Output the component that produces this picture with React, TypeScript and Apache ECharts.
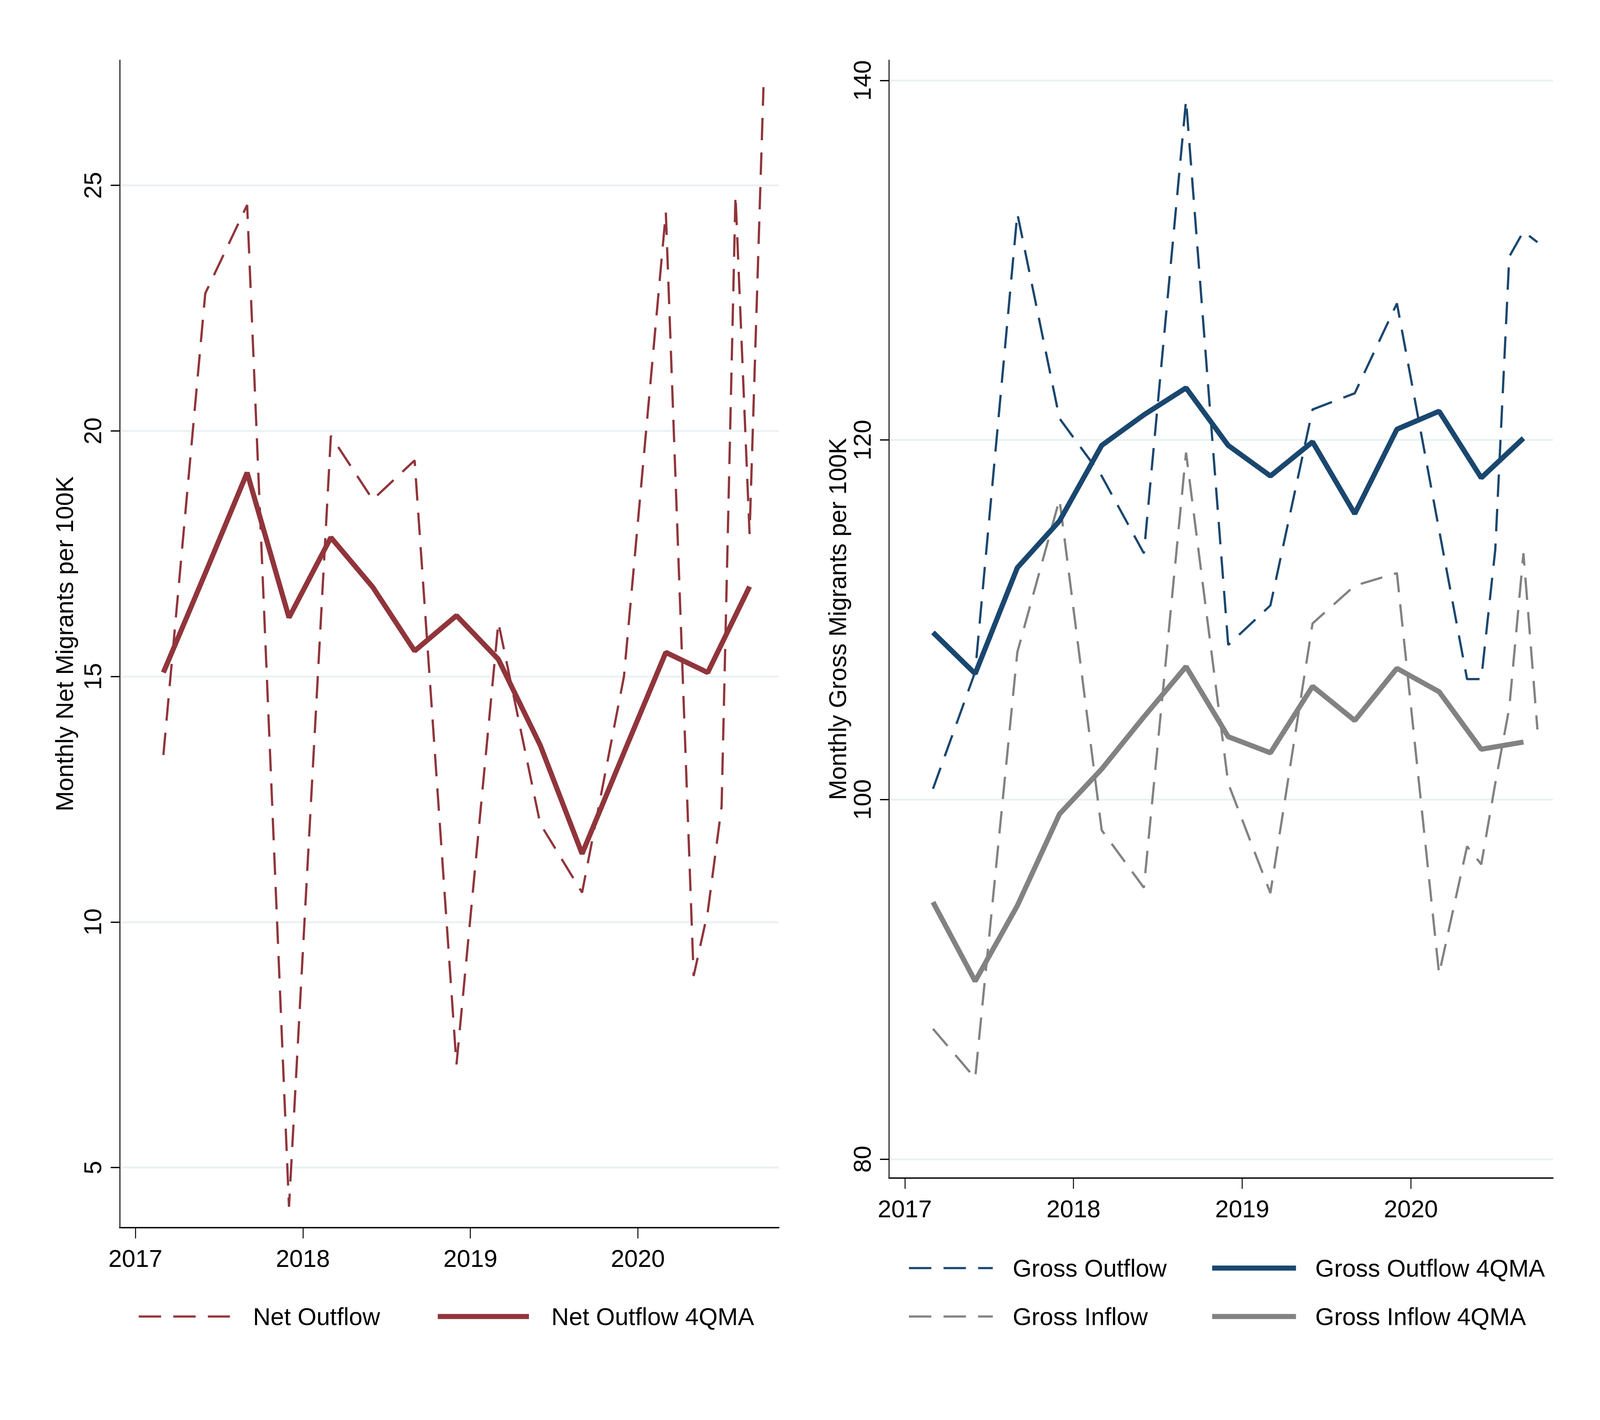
import React, { useEffect, useRef } from 'react';
import * as echarts from 'echarts';

// quarterly points through 2020q1, then monthly points for 2020
const flowDates = [
  2017.167, 2017.417, 2017.667, 2017.917, 2018.167, 2018.417, 2018.667, 2018.917,
  2019.167, 2019.417, 2019.667, 2019.917, 2020.167, 2020.333, 2020.417, 2020.5,
  2020.583, 2020.667, 2020.75,
];
// 4-quarter moving averages, quarterly
const maDates = [
  2017.167, 2017.417, 2017.667, 2017.917, 2018.167, 2018.417, 2018.667, 2018.917,
  2019.167, 2019.417, 2019.667, 2019.917, 2020.167, 2020.417, 2020.667,
];

const netOutflow = [
  13.4, 22.8, 24.6, 4.2, 19.9, 18.6, 19.4, 7.1, 16.1, 12.0, 10.6, 15.0, 24.45,
  8.9, 10.2, 12.35, 24.8, 17.9, 27.0,
];
const netOutflowMA = [
  15.08, 17.1, 19.15, 16.2, 17.83, 16.82, 15.52, 16.24, 15.35, 13.6, 11.39, 13.45,
  15.49, 15.08, 16.83,
];

const grossOutflow = [
  100.6, 107.1, 132.6, 121.2, 118.0, 113.7, 138.9, 108.6, 110.8, 121.7, 122.6, 127.6,
  115.0, 106.7, 106.7, 113.9, 130.2, 131.6, 131.0,
];
const grossInflow = [
  87.25, 84.5, 108.2, 116.7, 98.3, 95.1, 119.3, 100.9, 94.8, 109.8, 111.9, 112.6,
  90.3, 97.4, 96.4, 100.9, 105.1, 113.7, 103.9,
];
const grossOutflowMA = [
  109.3, 107.0, 112.9, 115.5, 119.7, 121.4, 122.9, 119.7, 118.0, 119.9, 115.9, 120.6,
  121.6, 117.9, 120.1,
];
const grossInflowMA = [
  94.3, 89.9, 94.1, 99.2, 101.7, 104.6, 107.4, 103.5, 102.6, 106.3, 104.4, 107.3,
  106.0, 102.8, 103.2,
];

const yearTicks = [2017, 2018, 2019, 2020];
const netTicks = [5, 10, 15, 20, 25];
const grossTicks = [80, 100, 120, 140];

const RED = '#90353B';
const NAVY = '#1A476F';
const GRAY = '#828282';
const FONT = '"Liberation Sans", Arial, sans-serif';

const pairs = (xs: number[], ys: number[]) => xs.map((x, i) => [x, ys[i]]);

// layout is measured on the 5000x3636 picture; sx, sy map it to the page
const buildOption = (sx: number, sy: number) => {
  const s = sx;
  const dash = [70 * s, 38 * s];
  const fontSize = 76 * s;

  const xAxisFor = (gridIndex: number) => ({
    type: 'value',
    gridIndex,
    min: 2016.906,
    max: 2020.842,
    axisLine: { show: true, onZero: false, lineStyle: { color: '#000', width: 4 * s } },
    axisTick: { show: true, customValues: yearTicks, length: 28 * sy, lineStyle: { color: '#000', width: 3 * s } },
    axisLabel: {
      customValues: yearTicks,
      formatter: (v: number) => String(Math.round(v)),
      fontSize,
      fontFamily: FONT,
      color: '#000',
      margin: 48 * sy,
    },
    splitLine: { show: false },
  });

  const yAxisFor = (gridIndex: number, min: number, max: number, ticks: number[], name: string, nameGap: number) => ({
    type: 'value',
    gridIndex,
    min,
    max,
    name,
    nameLocation: 'middle',
    nameRotate: 90,
    nameGap: nameGap * sx,
    nameTextStyle: { fontSize, fontFamily: FONT, color: '#000' },
    axisLine: { show: true, onZero: false, lineStyle: { color: '#000', width: 3 * s } },
    axisTick: { show: true, customValues: ticks, length: 28 * sx, lineStyle: { color: '#000', width: 4 * s } },
    axisLabel: {
      customValues: ticks,
      rotate: 90,
      fontSize,
      fontFamily: FONT,
      color: '#000',
      margin: 46 * sx,
    },
    splitLine: { show: true, lineStyle: { color: '#EAF2F3', width: 6 * s } },
  });

  const lineSeries = (name: string, idx: number, data: number[][], color: string, dashed: boolean) => ({
    name,
    type: 'line',
    xAxisIndex: idx,
    yAxisIndex: idx,
    data,
    symbol: 'none',
    showSymbol: false,
    lineStyle: { color, width: (dashed ? 7 : 16) * s, type: dashed ? dash : 'solid' },
    itemStyle: { color },
    z: dashed ? 2 : 3,
  });

  const legendFor = (
    names: string[], left: number, top: number, dashed: boolean, iconWidth: number, textGap: number,
  ) => ({
    data: names,
    left: left * sx,
    top: top * sy,
    orient: 'vertical',
    padding: 0,
    itemGap: 62 * sy,
    itemWidth: iconWidth * sx,
    itemHeight: 60 * sy,
    selectedMode: false,
    itemStyle: { opacity: 0 },
    lineStyle: { width: (dashed ? 7 : 16) * s, type: dashed ? dash : 'solid' },
    textStyle: {
      fontSize,
      fontFamily: FONT,
      color: '#000',
      lineHeight: 60 * sy,
      padding: [0, 0, 0, textGap * sx],
    },
  });

  return {
    animation: false,
    backgroundColor: '#fff',
    grid: [
      { left: 374 * sx, top: 154 * sy, width: 2060 * sx, height: 2989 * sy },
      { left: 2778 * sx, top: 154 * sy, width: 2075 * sx, height: 2862 * sy },
    ],
    xAxis: [xAxisFor(0), xAxisFor(1)],
    yAxis: [
      yAxisFor(0, 3.78, 27.55, netTicks, 'Monthly Net Migrants per 100K', 134),
      yAxisFor(1, 78.96, 141.13, grossTicks, 'Monthly Gross Migrants per 100K', 112),
    ],
    legend: [
      legendFor(['Net Outflow'], 430, 3340, true, 285, 66),
      legendFor(['Net Outflow 4QMA'], 1360, 3340, false, 285, 64),
      legendFor(['Gross Outflow', 'Gross Inflow'], 2837, 3216, true, 262, 56),
      legendFor(['Gross Outflow 4QMA', 'Gross Inflow 4QMA'], 3780, 3216, false, 262, 54),
    ],
    series: [
      lineSeries('Net Outflow', 0, pairs(flowDates, netOutflow), RED, true),
      lineSeries('Net Outflow 4QMA', 0, pairs(maDates, netOutflowMA), RED, false),
      lineSeries('Gross Outflow', 1, pairs(flowDates, grossOutflow), NAVY, true),
      lineSeries('Gross Inflow', 1, pairs(flowDates, grossInflow), GRAY, true),
      lineSeries('Gross Outflow 4QMA', 1, pairs(maDates, grossOutflowMA), NAVY, false),
      lineSeries('Gross Inflow 4QMA', 1, pairs(maDates, grossInflowMA), GRAY, false),
    ],
  };
};

const App: React.FC = () => {
  const chartRef = useRef<HTMLDivElement>(null);

  useEffect(() => {
    const el = chartRef.current!;
    const width = document.documentElement.clientWidth || window.innerWidth;
    const height = document.documentElement.clientHeight || window.innerHeight;
    el.style.width = `${width}px`;
    el.style.height = `${height}px`;

    const chart = echarts.init(el, null, { renderer: 'svg' });
    chart.setOption(buildOption(width / 5000, height / 3636));

    return () => {
      chart.dispose();
    };
  }, []);

  return (
    <div
      ref={chartRef}
      style={{ position: 'absolute', left: 0, top: 0, width: '1000px', height: '727px', background: '#fff' }}
    />
  );
};

export default App;
